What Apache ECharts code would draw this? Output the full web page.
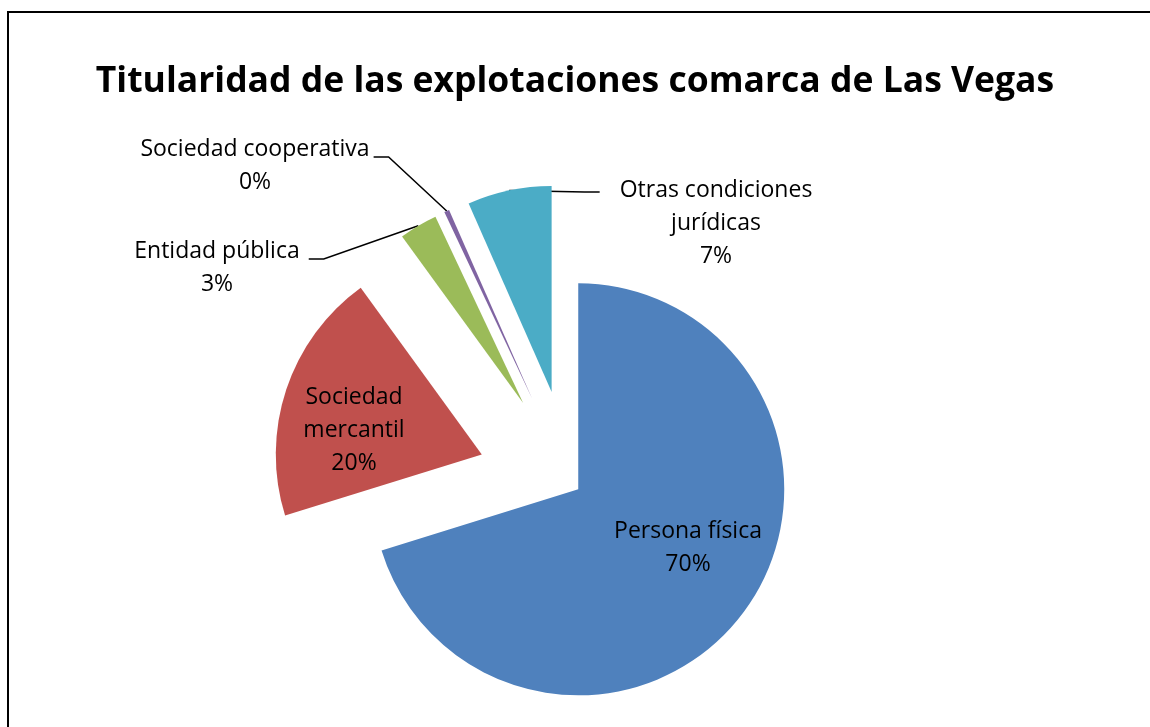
<!DOCTYPE html>
<html><head><meta charset="utf-8">
<script src="https://cdn.jsdelivr.net/npm/echarts@6/dist/echarts.min.js"></script>
<style>html,body{margin:0;padding:0;background:#fff}#c{width:1150px;height:727px}</style>
</head><body><div id="c"></div>
<script>
// ---- data ----
const categories = ['Persona física', 'Sociedad mercantil', 'Entidad pública', 'Sociedad cooperativa', 'Otras condiciones jurídicas'];
const values = [70.2, 19.8, 3.0, 0.4, 6.6];
const labelTexts = ['Persona física', 'Sociedad\nmercantil', 'Entidad pública', 'Sociedad cooperativa', 'Otras condiciones\njurídicas'];
const chartTitle = 'Titularidad de las explotaciones comarca de Las Vegas';

// ---- style / layout ----
const colors = ['#4F81BD', '#C0504D', '#9BBB59', '#8064A2', '#4BACC6'];
const explode = [9, 94, 94, 94, 94];          // px each slice is pulled out
const insideIdx = [0, 1];
// label box centres; spacer line above outside labels so the leader line meets the first text line
const labelPos = { 0: [688, 548], 1: [354, 430], 2: [217, 259], 3: [255, 157], 4: [716, 192] };
const labelSpacer = { 2: 17, 3: 17, 4: 62 };
const labelGap = { 2: 9, 3: 4, 4: 20 };
const FONT = '"Open Sans"';
const FS = 23, LH = 33;
const PIE_CENTER = [571, 484];
const PIE_R = 206;

const total = values.reduce((a, b) => a + b, 0);

function sliceSeries(k) {
  // direction of slice k's bisector, computed from the data
  let cum = 0;
  for (let i = 0; i < k; i++) cum += values[i];
  const mid = (cum + values[k] / 2) / total * 2 * Math.PI;
  const cx = PIE_CENTER[0] + explode[k] * Math.sin(mid);
  const cy = PIE_CENTER[1] - explode[k] * Math.cos(mid);
  const inside = insideIdx.indexOf(k) >= 0;
  return {
    type: 'pie',
    center: [cx, cy],
    radius: [0, PIE_R],
    startAngle: 90,
    clockwise: true,
    silent: true,
    animation: false,
    avoidLabelOverlap: false,
    emphasis: { disabled: true },
    label: {
      color: '#000',
      fontFamily: FONT,
      fontSize: FS,
      lineHeight: LH,
      align: 'center',
      formatter: p => {
        const lines = (labelTexts[p.dataIndex] + '\n' + Math.round(p.percent) + '%').split('\n');
        if (inside) return lines.join('\n');
        return ['{pad|\u00a0}'].concat(lines.map(s => '{t|' + s + '}')).join('\n');
      },
      rich: {
        pad: { fontSize: 1, lineHeight: labelSpacer[k] || 0 },
        t: { fontFamily: FONT, fontSize: FS, lineHeight: LH, color: '#000', padding: [0, labelGap[k] || 0] }
      }
    },
    labelLine: { lineStyle: { color: '#000', width: 1.5 }, length: 20, length2: 15 },
    labelLayout: p => {
      if (p.dataIndex !== k) return {};
      const pos = labelPos[k];
      return { x: pos[0], y: pos[1], align: 'center', verticalAlign: 'middle' };
    },
    data: categories.map((name, i) => ({
      name: name,
      value: values[i],
      itemStyle: { color: i === k ? colors[i] : 'rgba(0,0,0,0)' },
      label: { show: i === k, position: inside ? 'inside' : 'outside' },
      labelLine: { show: i === k && !inside }
    }))
  };
}

const chart = echarts.init(document.getElementById('c'));
chart.setOption({
  backgroundColor: '#fff',
  title: {
    text: chartTitle,
    left: 'center',
    top: 57,
    textStyle: { fontFamily: FONT, fontWeight: 'bold', fontSize: 35.5, lineHeight: 40, color: '#000' }
  },
  graphic: [{
    type: 'rect', silent: true,
    shape: { x: 8, y: 12, width: 1200, height: 800 },
    style: { fill: 'none', stroke: '#000', lineWidth: 2 }
  }],
  series: categories.map((c, k) => sliceSeries(k))
});
</script>
</body></html>
